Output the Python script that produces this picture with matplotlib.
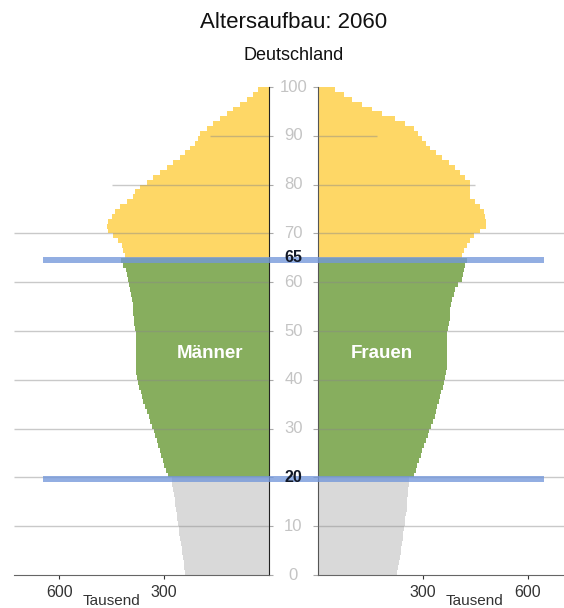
import matplotlib
matplotlib.use('Agg')
import matplotlib.pyplot as plt
import matplotlib.transforms as mtransforms
from matplotlib.lines import Line2D
import numpy as np

plt.rcParams['font.family'] = ['Liberation Sans', 'DejaVu Sans']

# Bevoelkerung 2060 in Tausend, Alter 0..99
ages = np.arange(0, 100)
maenner = [240, 242, 244, 246, 248, 250, 252, 254, 256, 258,
           260, 262, 264, 266, 268, 270, 272, 274, 276, 277,
           290, 294, 299, 303, 308, 312, 317, 321, 326, 330,
           334, 340, 344, 349, 354, 359, 363, 366, 371, 374,
           377, 380, 380, 380, 380, 380, 380, 380, 380, 381,
           383, 386, 386, 389, 389, 390, 391, 394, 397, 400,
           403, 406, 409, 417, 423, 411, 417, 420, 431, 446,
           460, 463, 460, 449, 440, 426, 406, 389, 383, 369,
           349, 331, 311, 291, 274, 254, 240, 226, 211, 203,
           197, 177, 160, 140, 120, 103, 83, 63, 46, 31]
frauen = [226, 229, 232, 234, 236, 238, 240, 242, 244, 246,
          248, 250, 251, 253, 254, 255, 256, 258, 259, 260,
          274, 279, 283, 288, 293, 298, 303, 308, 313, 318,
          323, 329, 333, 337, 341, 345, 348, 352, 357, 360,
          363, 366, 369, 369, 369, 369, 369, 369, 369, 369,
          371, 374, 377, 377, 377, 380, 383, 389, 391, 400,
          411, 414, 417, 420, 426, 411, 417, 426, 434, 446,
          463, 480, 480, 477, 474, 463, 449, 434, 434, 434,
          434, 420, 406, 391, 374, 354, 337, 320, 309, 297,
          286, 274, 249, 220, 183, 154, 126, 97, 74, 49]

age_ticks = list(range(0, 101, 10))
marker_ages = [65, 20]
x_ticks = [300, 600]
grid_limits = {80: 450, 90: 168}   # kurze Gitterlinien oben
marker_extent = 645

c_jung = '#d9d9d9'
c_mitte = '#87ae5e'
c_alt = '#fed766'
c_blau = '#7397da'
c_grid = '#888888'


def farben(a):
    if a < marker_ages[1]:
        return c_jung
    if a < marker_ages[0]:
        return c_mitte
    return c_alt


cols = [farben(a) for a in ages]

W, H = 564, 608
fig = plt.figure(figsize=(W / 100, H / 100), dpi=100)


def px_axes(x0, x1, ytop, ybot):
    return fig.add_axes([x0 / W, 1 - ybot / H, (x1 - x0) / W, (ybot - ytop) / H])


ax_l = px_axes(14, 269, 87, 575)
ax_r = px_axes(318, 564, 87, 575)

ax_l.barh(ages, maenner, height=1, align='edge', color=cols, linewidth=0, zorder=2)
ax_r.barh(ages, frauen, height=1, align='edge', color=cols, linewidth=0, zorder=2)

ax_l.set_xlim(729, 0)
ax_r.set_xlim(0, 703)
for ax in (ax_l, ax_r):
    ax.set_ylim(0, 100)
    ax.set_yticks(age_ticks)
    ax.set_yticklabels([])
    ax.set_xticks(x_ticks)
    ax.tick_params(axis='x', direction='out', length=3, pad=4,
                   labelsize=11.5, colors='#333333')
    ax.spines['top'].set_visible(False)
    ax.spines['bottom'].set_color('#666666')

ax_l.spines['left'].set_visible(False)
ax_l.spines['right'].set_color('#222222')
ax_l.yaxis.tick_right()
ax_l.tick_params(axis='y', direction='out', length=3, color='#aaaaaa')
ax_r.spines['right'].set_visible(False)
ax_r.spines['left'].set_color('#555555')
ax_r.tick_params(axis='y', direction='out', length=3.6, color='#aaaaaa')

# Gitterlinien ueber den Balken
for a in age_ticks[1:-1]:
    lim_l = grid_limits.get(a, ax_l.get_xlim()[0])
    lim_r = grid_limits.get(a, ax_r.get_xlim()[1])
    ax_l.hlines(a, 0, lim_l, color=c_grid, alpha=0.45, lw=1, zorder=3)
    ax_r.hlines(a, 0, lim_r, color=c_grid, alpha=0.45, lw=1, zorder=3)

# blaue Markierungslinien ueber beide Haelften
to_fig = fig.transFigure.inverted()
xs = to_fig.transform(ax_l.transData.transform((marker_extent, 0)))[0]
xe = to_fig.transform(ax_r.transData.transform((marker_extent, 0)))[0]
xm = to_fig.transform(ax_r.transAxes.transform((-0.0996, 0)))[0]
blend = mtransforms.blended_transform_factory(fig.transFigure, ax_l.transData)
for a in marker_ages:
    fig.add_artist(Line2D([xs, xe], [a - 0.4, a - 0.4], transform=blend,
                          color=c_blau, alpha=0.78, lw=4.3, zorder=5,
                          solid_capstyle='butt'))

# Alters-Beschriftung in der Mitte
lab_tr = mtransforms.blended_transform_factory(ax_r.transAxes, ax_r.transData)
for a in age_ticks:
    if a in marker_ages:
        continue
    ax_r.text(-0.0996, a, str(a), transform=lab_tr, ha='center', va='center',
              fontsize=12, color='#c4c4c4', clip_on=False)
for a in marker_ages:
    fig.text(xm, a, str(a), transform=blend, ha='center', va='center',
             fontsize=11.5, fontweight='bold', color='#111827', zorder=7)

ax_l.text(169, 45.3, 'Männer', color='white', fontweight='bold',
          fontsize=13.5, ha='center', va='center', zorder=4)
ax_r.text(183, 45.3, 'Frauen', color='white', fontweight='bold',
          fontsize=13.5, ha='center', va='center', zorder=4)

ax_l.text(0.384, -0.053, 'Tausend', transform=ax_l.transAxes, ha='center',
          va='center', fontsize=11, color='#333333')
ax_r.text(0.636, -0.053, 'Tausend', transform=ax_r.transAxes, ha='center',
          va='center', fontsize=11, color='#333333')

fig.text(293.5 / W, 1 - 22 / H, 'Altersaufbau: 2060', ha='center', va='center',
         fontsize=16, color='#111111')
fig.text(293.5 / W, 1 - 55 / H, 'Deutschland', ha='center', va='center',
         fontsize=13, color='#111111')

fig.savefig('out.png', dpi=100)
